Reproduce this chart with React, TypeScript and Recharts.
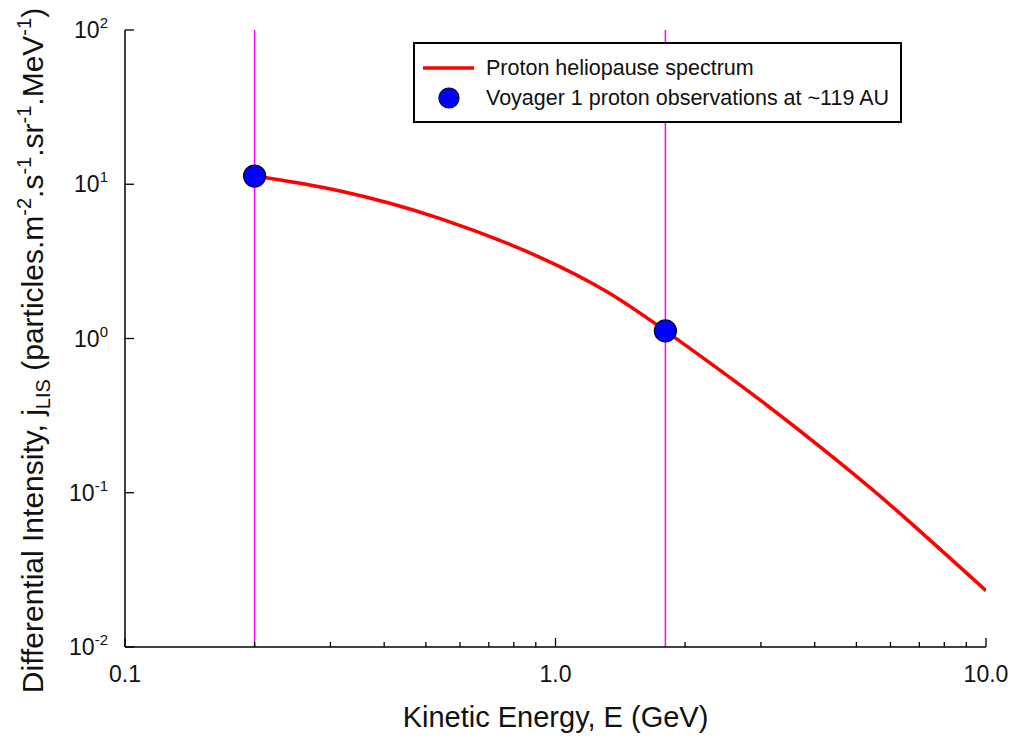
import {
  ComposedChart,
  Label,
  Legend,
  Line,
  ReferenceLine,
  Scatter,
  XAxis,
  YAxis,
} from 'recharts';

// Proton heliopause spectrum: kinetic energy (GeV) vs differential intensity
const spectrumEnergy = [0.2, 0.316, 0.54, 0.92, 1.32, 1.8, 2.99, 4.58, 6.31, 10];
const spectrumIntensity = [11.3, 9.05, 5.99, 3.36, 2.0, 1.12, 0.398, 0.156, 0.0735, 0.0232];

// Voyager 1 measurements at ~119 AU
const voyagerEnergy = [0.2, 1.8];
const voyagerIntensity = [11.3, 1.12];

const xMajorTicks = [0.1, 1, 10];
const xMinorTicks = [0.2, 0.3, 0.4, 0.5, 0.6, 0.7, 0.8, 0.9, 2, 3, 4, 5, 6, 7, 8, 9];
const yTicks = [0.01, 0.1, 1, 10, 100];

const spectrum = spectrumEnergy.map((energy, i) => ({ energy, intensity: spectrumIntensity[i] }));
const voyager = voyagerEnergy.map((energy, i) => ({ energy, intensity: voyagerIntensity[i] }));
const xTicks = [...xMajorTicks, ...xMinorTicks].sort((a, b) => a - b);

const FONT = '"Liberation Sans", Arial, Helvetica, sans-serif';
const INK = '#111';

const XTickBottom = ({ x, y, payload }: any) => {
  const major = xMajorTicks.includes(payload.value);
  return (
    <g>
      <line x1={x} x2={x} y1={y} y2={y - (major ? 9 : 5)} stroke="#000" strokeWidth={1.3} />
      {major && (
        <text x={x} y={y + 35} textAnchor="middle" fontSize={23} fontFamily={FONT} fill={INK}>
          {payload.value.toFixed(1)}
        </text>
      )}
    </g>
  );
};

const XTickTop = ({ x, y, payload }: any) => {
  const major = xMajorTicks.includes(payload.value);
  return <line x1={x} x2={x} y1={y} y2={y + (major ? 9 : 5)} stroke="#000" strokeWidth={1.3} />;
};

const YTickLeft = ({ x, y, payload }: any) => {
  const exp = Math.round(Math.log10(payload.value));
  return (
    <g>
      <line x1={x} x2={x + 9} y1={y} y2={y} stroke="#000" strokeWidth={1.3} />
      <text x={x - 17} y={y + 8} textAnchor="end" fontSize={23} fontFamily={FONT} fill={INK}>
        10
        <tspan dy={-10} fontSize={15}>
          {exp}
        </tspan>
      </text>
    </g>
  );
};

const YTickRight = ({ x, y }: any) => (
  <line x1={x} x2={x - 9} y1={y} y2={y} stroke="#000" strokeWidth={1.3} />
);

const Dot = ({ cx, cy }: any) => (
  <circle cx={cx} cy={cy} r={11} fill="#0000ff" stroke="#000033" strokeWidth={1.2} />
);

const LegendBox = ({ payload }: any) => (
  <div
    style={{
      width: 489,
      height: 81,
      boxSizing: 'border-box',
      border: '2px solid #000',
      background: '#fff',
      paddingTop: 9,
      fontFamily: FONT,
      color: INK,
    }}
  >
    {(payload || []).map((entry: any) => (
      <div key={entry.value} style={{ display: 'flex', alignItems: 'center', height: 30 }}>
        <svg width={62} height={26}>
          {entry.type === 'line' ? (
            <line x1={8} x2={59} y1={13} y2={13} stroke={entry.color} strokeWidth={3.5} />
          ) : (
            <circle cx={34} cy={13} r={10} fill={entry.color} stroke="#000033" strokeWidth={1.2} />
          )}
        </svg>
        <span style={{ marginLeft: 9, fontSize: 21.5, lineHeight: '26px' }}>{entry.value}</span>
      </div>
    ))}
  </div>
);

const YTitle = ({ viewBox }: any) => {
  const cx = viewBox.x + 43;
  const cy = viewBox.y + viewBox.height / 2 + 12;
  return (
    <text
      x={cx}
      y={cy}
      transform={`rotate(-90 ${cx} ${cy})`}
      textAnchor="middle"
      fontSize={30}
      fontFamily={FONT}
      fill={INK}
    >
      Differential Intensity, j
      <tspan dy={7} fontSize={20}>LIS</tspan>
      <tspan dy={-7}> (particles.m</tspan>
      <tspan dy={-12} fontSize={20}>-2</tspan>
      <tspan dy={12}>.s</tspan>
      <tspan dy={-12} fontSize={20}>-1</tspan>
      <tspan dy={12}>.sr</tspan>
      <tspan dy={-12} fontSize={20}>-1</tspan>
      <tspan dy={12}>.MeV</tspan>
      <tspan dy={-12} fontSize={20}>-1</tspan>
      <tspan dy={12}>)</tspan>
    </text>
  );
};

const XTitle = ({ viewBox }: any) => (
  <text
    x={viewBox.x + viewBox.width / 2}
    y={viewBox.y + 80}
    textAnchor="middle"
    fontSize={29}
    fontFamily={FONT}
    fill={INK}
  >
    Kinetic Energy, E (GeV)
  </text>
);

export default function App() {
  return (
    <div style={{ position: 'absolute', left: 0, top: 0, background: '#fff' }}>
      <ComposedChart width={1011} height={739} margin={{ top: 30, right: 25, bottom: 0, left: 0 }}>
        <XAxis
          dataKey="energy"
          type="number"
          scale="log"
          domain={[0.1, 10]}
          allowDataOverflow
          ticks={xTicks}
          interval={0}
          height={92}
          tickSize={0}
          tickMargin={0}
          tickLine={false}
          tick={<XTickBottom />}
          axisLine={{ stroke: '#000', strokeWidth: 1.5 }}
        >
          <Label content={<XTitle />} />
        </XAxis>
        <XAxis
          xAxisId="top"
          orientation="top"
          dataKey="energy"
          type="number"
          scale="log"
          domain={[0.1, 10]}
          allowDataOverflow
          ticks={xTicks}
          interval={0}
          height={0}
          tickSize={0}
          tickMargin={0}
          tickLine={false}
          tick={<XTickTop />}
          axisLine={{ stroke: '#000', strokeWidth: 1.5 }}
        />
        <YAxis
          dataKey="intensity"
          type="number"
          scale="log"
          domain={[0.01, 100]}
          allowDataOverflow
          ticks={yTicks}
          interval={0}
          width={125}
          tickSize={0}
          tickMargin={0}
          tickLine={false}
          tick={<YTickLeft />}
          axisLine={{ stroke: '#000', strokeWidth: 1.5 }}
        >
          <Label content={<YTitle />} />
        </YAxis>
        <YAxis
          yAxisId="right"
          orientation="right"
          dataKey="intensity"
          type="number"
          scale="log"
          domain={[0.01, 100]}
          allowDataOverflow
          ticks={yTicks}
          interval={0}
          width={0}
          tickSize={0}
          tickMargin={0}
          tickLine={false}
          tick={<YTickRight />}
          axisLine={{ stroke: '#000', strokeWidth: 1.5 }}
        />
        {voyagerEnergy.map((e) => (
          <ReferenceLine key={e} x={e} stroke="#ff00ff" strokeWidth={1.5} />
        ))}
        <Line
          data={spectrum}
          dataKey="intensity"
          name="Proton heliopause spectrum"
          type="natural"
          stroke="#ff0000"
          strokeWidth={3.5}
          dot={false}
          isAnimationActive={false}
        />
        <Scatter
          data={voyager}
          dataKey="intensity"
          name="Voyager 1 proton observations at ~119 AU"
          fill="#0000ff"
          shape={<Dot />}
          isAnimationActive={false}
        />
        <Legend
          layout="vertical"
          align="center"
          verticalAlign="middle"
          content={<LegendBox />}
          wrapperStyle={{ left: 413, top: 42, width: 489 }}
        />
      </ComposedChart>
    </div>
  );
}
